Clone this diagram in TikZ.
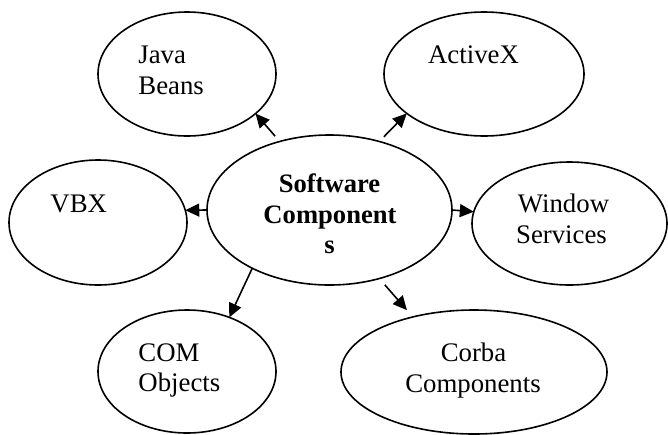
\documentclass[tikz,border=0pt]{standalone}
\usepackage{fontspec}
\setmainfont{Liberation Serif}
\usetikzlibrary{shapes.geometric,arrows.meta}
\begin{document}
\begin{tikzpicture}[x=0.5pt,y=-0.5pt,
  ell/.style={draw,ellipse,inner sep=0pt,outer sep=0pt,line width=0.8pt},
  txt/.style={inner sep=0pt,font=\fontsize{13.4}{15.5}\selectfont},
  btxt/.style={inner sep=0pt,font=\fontsize{13.3}{15.5}\selectfont\bfseries},
  conn/.style={line width=0.8pt,-{Triangle[length=7pt,width=6.5pt]}}]
\useasboundingbox (0,0) rectangle (668,434);
% ellipses
\node[ell,minimum width=122.5pt,minimum height=75pt] (C) at (329.5,210) {};
\node[ell,minimum width=89pt,minimum height=62pt] (JB) at (187,74) {};
\node[ell,minimum width=100pt,minimum height=62pt] (AX) at (484,74) {};
\node[ell,minimum width=89pt,minimum height=62.5pt] (VBX) at (98,222.5) {};
\node[ell,minimum width=97.5pt,minimum height=61.5pt] (WS) at (569.5,223.5) {};
\node[ell,minimum width=89pt,minimum height=61.5pt] (COM) at (187,371.5) {};
\node[ell,minimum width=133pt,minimum height=62pt] (CB) at (474,372) {};
% texts
\node[btxt,anchor=base] (c1) at (329.5,192) {Software};
\node[btxt,anchor=base] (c2) at (330,223) {Component};
\node[btxt,anchor=base] (c3) at (329.5,253) {s};
\node[txt,anchor=base west] (jb1) at (138,63) {Java};
\node[txt,anchor=base west] (jb2) at (138,94) {Beans};
\node[txt,anchor=base] (ax1) at (473.5,63) {ActiveX};
\node[txt,anchor=base west] (vbx1) at (50,212) {VBX};
\node[txt,anchor=base] (ws1) at (563.5,212.5) {Window};
\node[txt,anchor=base] (ws2) at (561.5,243) {Services};
\node[txt,anchor=base west] (com1) at (138,361) {COM};
\node[txt,anchor=base west] (com2) at (138,391) {Objects};
\node[txt,anchor=base] (cb1) at (473.5,361) {Corba};
\node[txt,anchor=base] (cb2) at (473,392) {Components};
% connectors
\draw[conn,shorten <=3.5pt] (C.126) -- (JB.-30);
\draw[conn,shorten <=3.3pt] (C.54) -- (AX.207);
\draw[conn] (C.180) -- (VBX.8);
\draw[conn] (C.0) -- (WS.173);
\draw[conn] (C.217) -- (COM.52);
\draw[conn,shorten <=4.2pt,shorten >=4.5pt] (C.-54) -- (CB.138);
\end{tikzpicture}
\end{document}
